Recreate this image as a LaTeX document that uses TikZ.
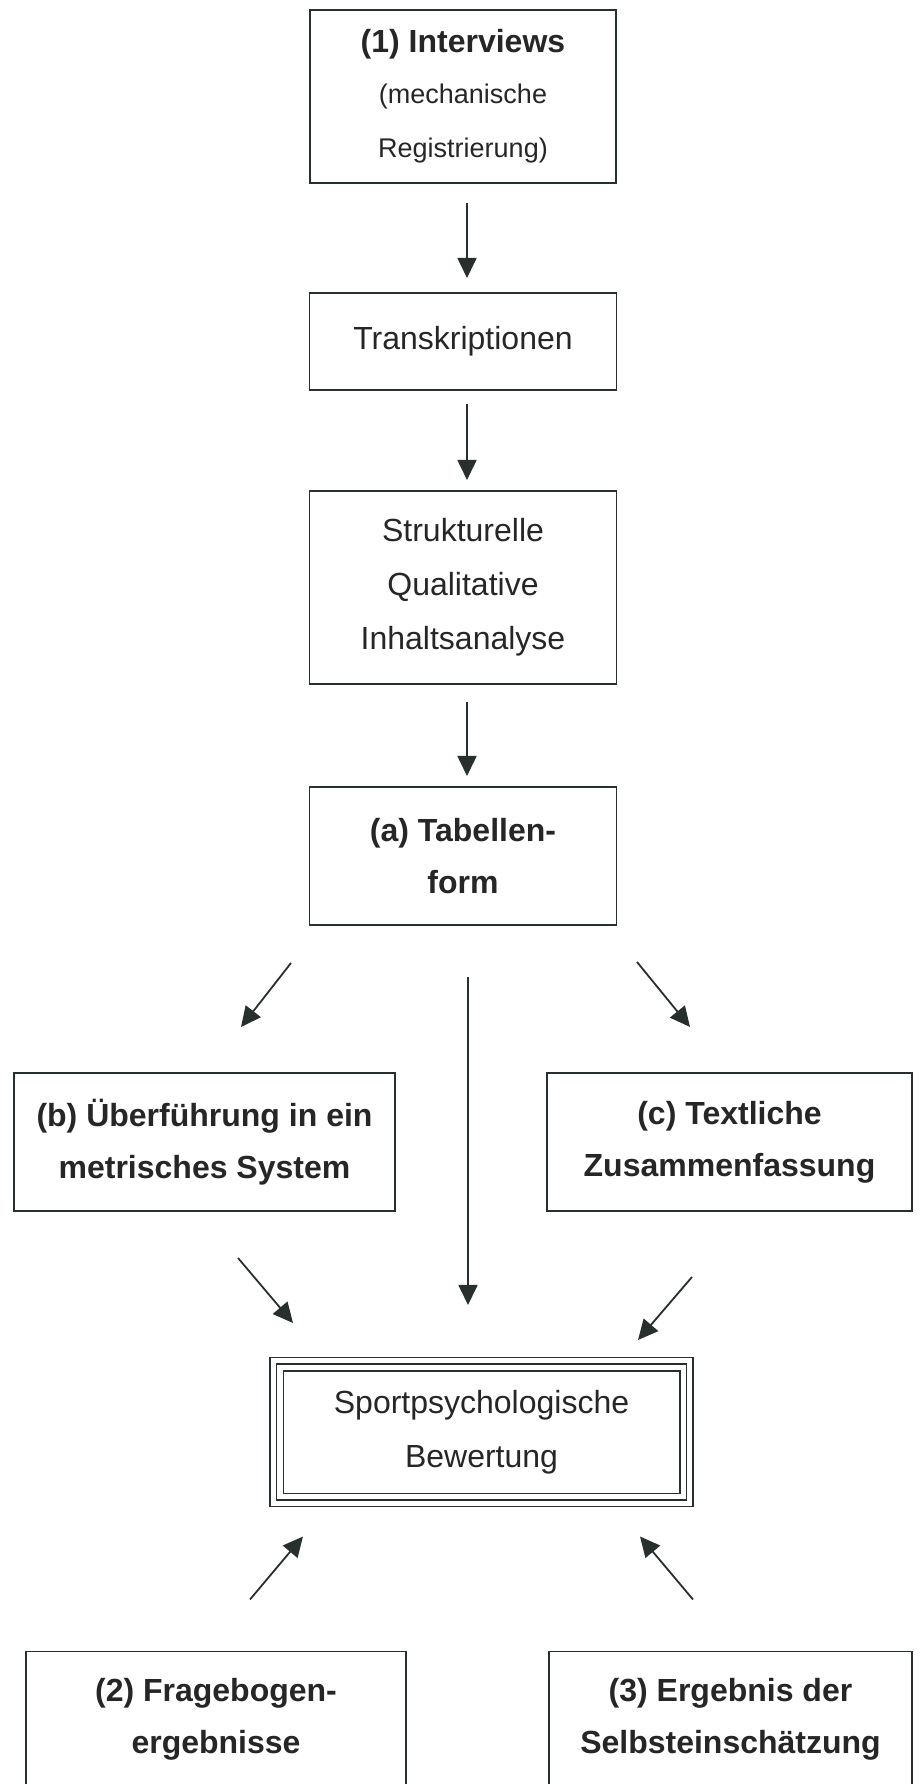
\documentclass[tikz,border=0pt]{standalone}
\usepackage{fontspec}
\setmainfont{Liberation Sans}
\usetikzlibrary{positioning,arrows.meta}
\definecolor{scanink}{RGB}{40,48,46}

\begin{document}
\begin{tikzpicture}[x=1pt, y=1pt, node distance=104pt and 0pt, semithick,
  procbox/.style={rectangle, draw=scanink, line width=1.8pt, align=center, inner sep=0pt, outer sep=0pt, text=black!85, font=\fontsize{32}{54}\selectfont},
  titlebox/.style={procbox, font=\fontsize{32}{52}\selectfont\bfseries},
  evalbox/.style={procbox, double, double distance=5pt, line width=1.5pt},
  flow/.style={draw=scanink, line width=1.8pt, -{Triangle[length=20pt,width=19pt]}}]
  \useasboundingbox (0,0) rectangle (923,1784);
  \clip (0,0) rectangle (923,1784);

  % main chain
  \node[procbox, minimum width=306pt, minimum height=173pt] (interv) at (463,1687.5) {\bfseries (1) Interviews\\[-3pt] \fontsize{27}{47}\selectfont (mechanische\\ \fontsize{27}{47}\selectfont Registrierung)};
  \node[procbox, minimum width=307pt, minimum height=97pt, below=110pt of interv] (trans) {Transkriptionen};
  \node[procbox, minimum width=307pt, minimum height=193pt, below=101pt of trans] (struk) {Strukturelle\\ Qualitative\\ Inhaltsanalyse};
  \node[titlebox, minimum width=307pt, minimum height=138pt, below=103pt of struk] (tab) {(a) Tabellen-\\ form};

  % branches
  \node[titlebox, minimum width=381pt, minimum height=138pt, below=148pt of tab, xshift=-258.5pt] (metr) {(b) Überführung in ein\\ metrisches System};
  \node[titlebox, minimum width=365pt, minimum height=138pt, below=148pt of tab, xshift=266.5pt] (textl) {(c) Textliche\\ Zusammenfassung};
  \node[evalbox, minimum width=416.5pt, minimum height=142.5pt, below=150pt of metr, xshift=277pt] (bewert) {Sportpsychologische\\ Bewertung};
  \draw[scanink, line width=1.5pt] ([xshift=10pt,yshift=-10pt]bewert.north west) rectangle ([xshift=-10pt,yshift=10pt]bewert.south east);
  \node[titlebox, minimum width=380pt, minimum height=136pt, below=148pt of bewert, xshift=-265.5pt] (quest) {(2) Fragebogen-\\ ergebnisse};
  \node[titlebox, minimum width=363pt, minimum height=136pt, below=148pt of bewert, xshift=249pt] (selbst) {(3) Ergebnis der\\ Selbsteinschätzung};

  % arrows
  \draw[flow, shorten <=20pt, shorten >=15pt] ([xshift=4pt]interv.south) -- ([xshift=4pt]trans.north);
  \draw[flow, shorten <=14pt, shorten >=11pt] ([xshift=4pt]trans.south) -- ([xshift=4pt]struk.north);
  \draw[flow, shorten <=18pt, shorten >=11pt] ([xshift=4pt]struk.south) -- ([xshift=4pt]tab.north);
  \draw[flow] ([xshift=-172pt,yshift=-38pt]tab.south) -- ([xshift=36.5pt,yshift=46pt]metr.north);
  \draw[flow] ([xshift=174pt,yshift=-37pt]tab.south) -- ([xshift=-39.5pt,yshift=46pt]textl.north);
  \draw[flow] ([xshift=5pt,yshift=-52pt]tab.south) -- ([xshift=-13.5pt,yshift=56pt]bewert.north);
  \draw[flow] ([xshift=33.5pt,yshift=-47pt]metr.south) -- ([xshift=-188.5pt,yshift=38pt]bewert.north);
  \draw[flow] ([xshift=-37.5pt,yshift=-66pt]textl.south) -- ([xshift=156.5pt,yshift=21pt]bewert.north);
  \draw[flow] ([xshift=34pt,yshift=52pt]quest.north) -- ([xshift=-178.5pt,yshift=-33pt]bewert.south);
  \draw[flow] ([xshift=-37.5pt,yshift=52pt]selbst.north) -- ([xshift=158.5pt,yshift=-33pt]bewert.south);
\end{tikzpicture}
\end{document}
